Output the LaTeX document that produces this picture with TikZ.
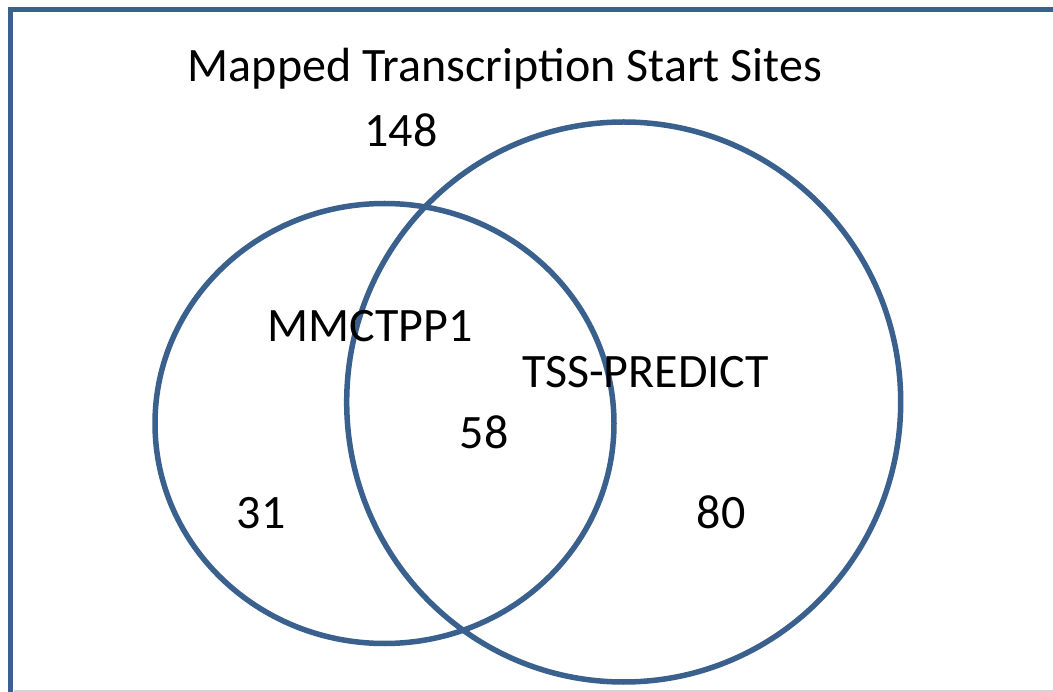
\documentclass[tikz,border=0pt]{standalone}
\usepackage{fontspec}
\setmainfont{Carlito}
\definecolor{vennblue}{RGB}{58,96,142}
\definecolor{edgegray}{RGB}{208,212,220}
\tikzset{
  venn/.style={draw=vennblue, line width=5.5pt},
  lbl/.style={anchor=base, inner sep=0pt, font=\fontsize{48}{57}\selectfont, text=black},
}
\begin{document}
\begin{tikzpicture}[x=1pt, y=-1pt]
  \useasboundingbox (0,0) rectangle (1053,692);
  \begin{scope}
    \clip (0,0) rectangle (1053,692);
    % outer frame, running off the right and bottom edges
    \draw[draw=vennblue, line width=5pt] (10.5,10) rectangle (1080,720);
    \draw[edgegray, line width=1.5pt] (14,691) -- (1053,691);
  \end{scope}
  % the two sets
  \draw[venn] (384.5,423.5) ellipse [x radius=229.5, y radius=220];
  \draw[venn] (623.7,402) ellipse [x radius=277, y radius=280];
  % labels and counts
  \node[lbl] (title) at (505,82) {Mapped Transcription Start Sites};
  \node[lbl] (total) at (401,147) {148};
  \node[lbl] (mm) at (370,342) {MMCTPP1};
  \node[lbl] (tss) at (645.5,388) {TSS-PREDICT};
  \node[lbl] (both) at (484,449) {58};
  \node[lbl] (left) at (261,529) {31};
  \node[lbl] (right) at (721,529) {80};
\end{tikzpicture}
\end{document}
